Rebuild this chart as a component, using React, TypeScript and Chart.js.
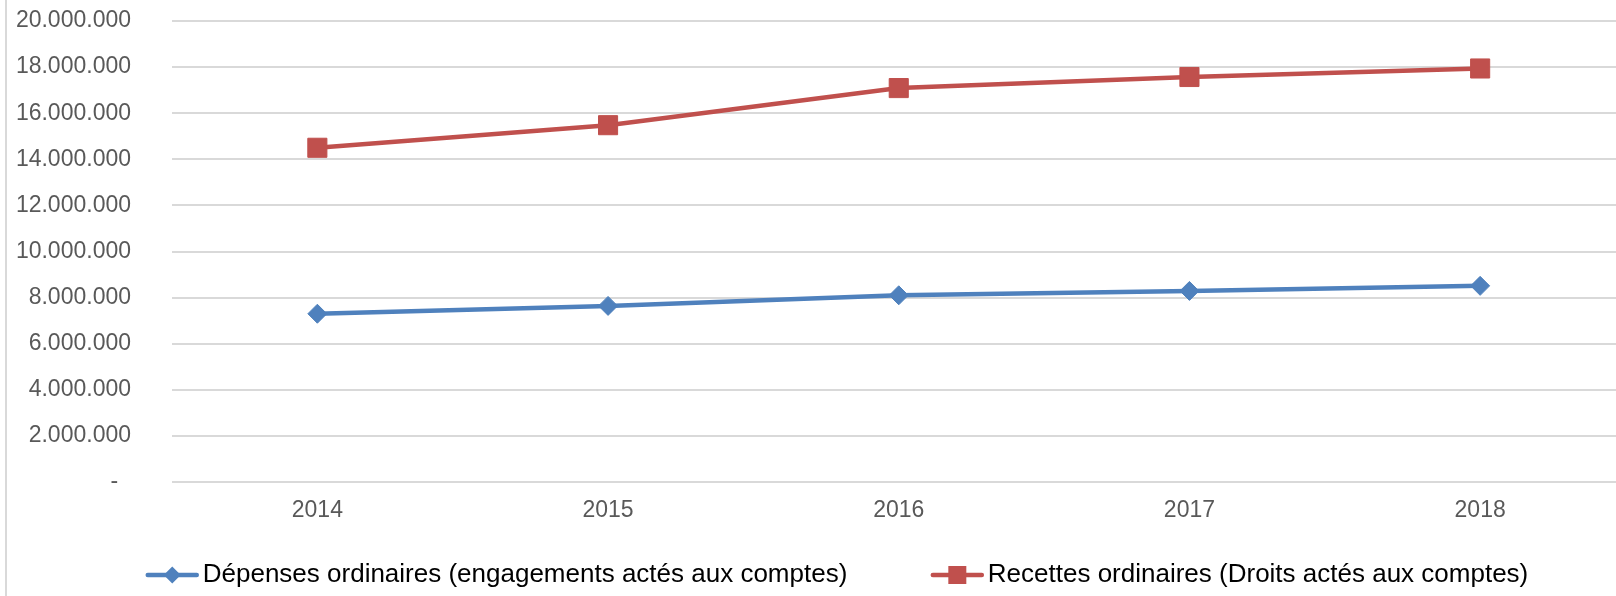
import React, { useEffect, useRef } from 'react';
import { Chart, registerables } from 'chart.js';

Chart.register(...registerables);

const FONT = "'Liberation Sans', Arial, Helvetica, sans-serif";

const categories = ['2014', '2015', '2016', '2017', '2018'];
const depensesOrdinaires = [7300000, 7640000, 8100000, 8290000, 8510000];
const recettesOrdinaires = [14500000, 15480000, 17090000, 17570000, 17940000];
const seriesLabels = [
  'Dépenses ordinaires (engagements actés aux comptes)',
  'Recettes ordinaires (Droits actés aux comptes)',
];
const yMin = 0;
const yMax = 20000000;
const yStep = 2000000;

const BLUE = '#4f81bd';
const RED = '#c0504d';

function formatTick(v: number): string {
  if (v === 0) return '-  ';
  return String(Math.round(v)).replace(/\B(?=(\d{3})+(?!\d))/g, '.');
}

const legendPlugin = {
  id: 'lineMarkerLegend',
  afterDraw(chart: any) {
    const ctx = chart.ctx as CanvasRenderingContext2D;
    ctx.save();
    ctx.font = `26px ${FONT}`;
    const iconW = 53;
    const textGap = 4;
    const itemGap = 83.5;
    const items = chart.data.datasets.map((ds: any) => ({ ds, w: ctx.measureText(ds.label).width }));
    const total =
      items.reduce((s: number, it: any) => s + iconW + textGap + it.w, 0) + itemGap * (items.length - 1);
    let x = 837 - total / 2;
    const y = 575;
    items.forEach(({ ds, w }: any) => {
      ctx.strokeStyle = ds.borderColor;
      ctx.lineWidth = 4.5;
      ctx.lineCap = 'round';
      ctx.beginPath();
      ctx.moveTo(x + 2, y);
      ctx.lineTo(x + iconW - 2, y);
      ctx.stroke();
      const cx = x + iconW / 2;
      ctx.fillStyle = ds.backgroundColor;
      ctx.beginPath();
      if (ds.pointStyle === 'rectRot') {
        const r = 8.5;
        ctx.moveTo(cx, y - r);
        ctx.lineTo(cx + r, y);
        ctx.lineTo(cx, y + r);
        ctx.lineTo(cx - r, y);
        ctx.closePath();
      } else {
        const s = 18;
        ctx.rect(cx - s / 2, y - s / 2, s, s);
      }
      ctx.fill();
      ctx.fillStyle = '#000000';
      ctx.textBaseline = 'middle';
      ctx.textAlign = 'left';
      ctx.fillText(ds.label, x + iconW + textGap, y);
      x += iconW + textGap + w + itemGap;
    });
    ctx.restore();
  },
};

export default function App() {
  const canvasRef = useRef<HTMLCanvasElement | null>(null);

  useEffect(() => {
    if (!canvasRef.current) return;
    const chart = new Chart(canvasRef.current, {
      type: 'line',
      data: {
        labels: categories,
        datasets: [
          {
            label: seriesLabels[0],
            data: depensesOrdinaires,
            borderColor: BLUE,
            backgroundColor: BLUE,
            borderWidth: 4.5,
            pointStyle: 'rectRot',
            pointRadius: 9.5,
            pointBorderWidth: 1,
            pointBorderColor: BLUE,
            pointBackgroundColor: BLUE,
            tension: 0,
            fill: false,
          },
          {
            label: seriesLabels[1],
            data: recettesOrdinaires,
            borderColor: RED,
            backgroundColor: RED,
            borderWidth: 4.5,
            pointStyle: 'rect',
            pointRadius: 13.5,
            pointBorderWidth: 1,
            pointBorderColor: RED,
            pointBackgroundColor: RED,
            tension: 0,
            fill: false,
          },
        ],
      },
      options: {
        responsive: false,
        animation: false,
        devicePixelRatio: 1,
        layout: { padding: { top: 21, right: 10, bottom: 74, left: 0 } },
        plugins: {
          legend: { display: false },
          tooltip: { enabled: false },
          title: { display: false },
        },
        scales: {
          x: {
            type: 'category',
            offset: true,
            grid: { display: false, drawTicks: false },
            border: { display: false },
            ticks: {
              padding: 15,
              color: '#595959',
              font: { family: FONT, size: 23 },
              maxRotation: 0,
            },
            afterFit: (scale: any) => {
              scale.height = 40;
            },
          },
          y: {
            type: 'linear',
            min: yMin,
            max: yMax,
            grid: {
              color: '#d9d9d9',
              lineWidth: 2,
              drawTicks: true,
              tickLength: 35,
              tickColor: 'rgba(0,0,0,0)',
            },
            border: { display: false },
            ticks: {
              stepSize: yStep,
              padding: 6,
              color: '#595959',
              font: { family: FONT, size: 23 },
              callback: (v: any) => formatTick(Number(v)),
            },
            afterFit: (scale: any) => {
              scale.width = 172;
            },
          },
        },
      },
      plugins: [legendPlugin],
    });
    return () => chart.destroy();
  }, []);

  return (
    <div
      style={{
        position: 'fixed',
        left: 0,
        top: 0,
        width: 1616,
        height: 596,
        overflow: 'hidden',
        background: '#ffffff',
      }}
    >
      <div
        style={{ position: 'absolute', left: 5, top: 0, width: 2, height: 596, background: '#d9d9d9' }}
      />
      <canvas
        ref={canvasRef}
        width={1640}
        height={596}
        style={{ position: 'absolute', left: 0, top: 0, width: 1640, height: 596 }}
      />
    </div>
  );
}
